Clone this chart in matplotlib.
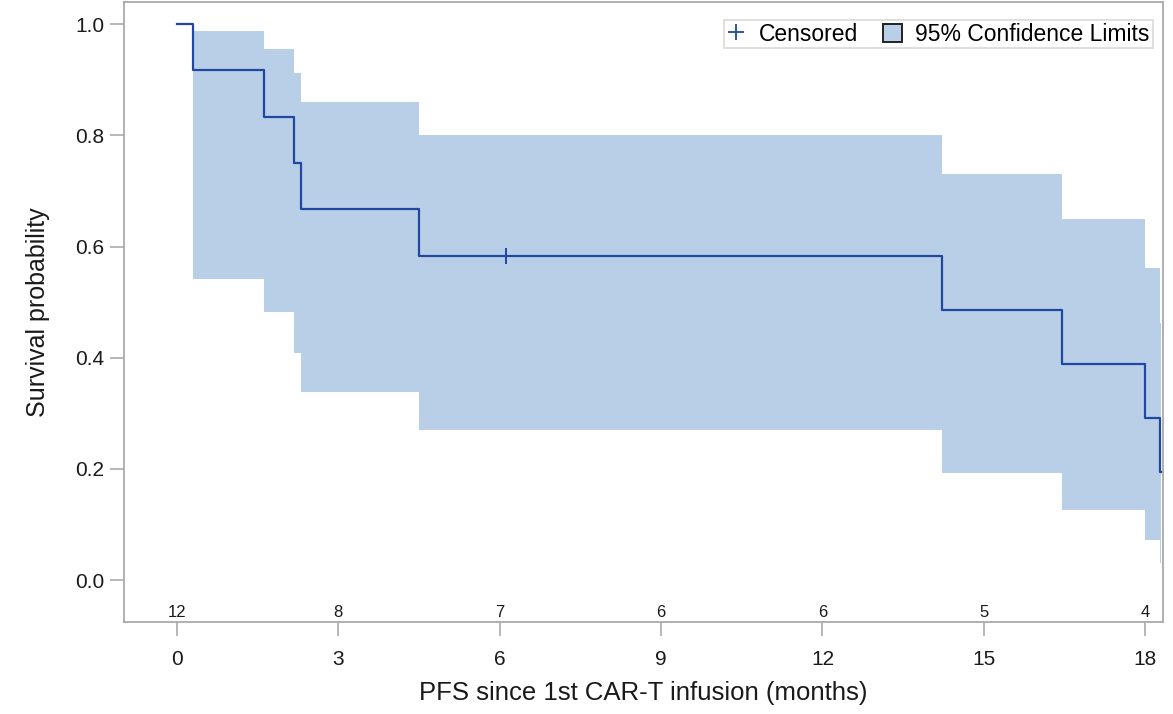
import numpy as np
import matplotlib.pyplot as plt
from matplotlib.patches import Patch
from matplotlib.lines import Line2D

plt.rcParams['font.family'] = ['Liberation Sans', 'DejaVu Sans']

# Kaplan-Meier step estimate (time in months, survival after each step)
km_t = [0.0, 0.30, 1.61, 2.17, 2.31, 4.50, 14.22, 16.46, 18.00, 18.28]
km_s = [1.0, 0.917, 0.833, 0.750, 0.667, 0.583, 0.486, 0.389, 0.292, 0.194]
t_end = 18.30

# 95% pointwise confidence band, starting at first event
ci_t = [0.30, 1.61, 2.17, 2.31, 4.50, 14.22, 16.46, 18.00, 18.28]
ci_lo = [0.541, 0.483, 0.408, 0.338, 0.270, 0.193, 0.126, 0.072, 0.031]
ci_hi = [0.988, 0.956, 0.912, 0.860, 0.800, 0.731, 0.650, 0.561, 0.463]

censor_t = [6.12]
censor_s = [0.583]

risk_times = [0, 3, 6, 9, 12, 15, 18]
at_risk = [12, 8, 7, 6, 6, 5, 4]

line_col = '#2048A0'
band_col = '#B9CFE7'
frame_col = '#AAAAAA'
txt_col = '#1A1A1A'

fig = plt.figure(figsize=(11.73, 7.14), dpi=100)
ax = fig.add_axes([124 / 1173, 1 - 622 / 714, (1163 - 124) / 1173, (622 - 2) / 714])

bt = ci_t + [t_end]
ax.fill_between(bt, ci_lo + [ci_lo[-1]], ci_hi + [ci_hi[-1]], step='post',
                color=band_col, lw=0, zorder=1)
ax.step(km_t + [t_end], km_s + [km_s[-1]], where='post', color=line_col, lw=1.6, zorder=3)
ax.plot(censor_t, censor_s, ls='none', marker='|', ms=12, mew=1.4, color=line_col, zorder=4)

# number at risk along the bottom of the plot area
for t, n in zip(risk_times, at_risk):
    ax.text(t, -0.058, str(n), ha='center', va='center', fontsize=12, color=txt_col)

ax.set_xlim(-0.985, 18.33)
ax.set_ylim(-0.0755, 1.04)
ax.set_xticks(risk_times)
ax.set_yticks(np.arange(0, 1.01, 0.2))
ax.set_yticklabels(['%.1f' % v for v in np.arange(0, 1.01, 0.2)])
ax.tick_params(colors=frame_col, labelcolor=txt_col, labelsize=15, length=10, width=1.2)
ax.tick_params(axis='x', pad=10)
ax.tick_params(axis='y', pad=4)
for sp in ax.spines.values():
    sp.set_color(frame_col)
    sp.set_linewidth(1.3)

ax.set_xlabel('PFS since 1st CAR-T infusion (months)', fontsize=18.5, labelpad=9, color=txt_col)
ax.set_ylabel('Survival probability', fontsize=18, labelpad=18, color=txt_col)

handles = [Line2D([], [], ls='none', marker='+', ms=11, mew=1.3, color=line_col),
           Patch(facecolor=band_col, edgecolor='#222222', lw=1.4)]
leg = ax.legend(handles, ['Censored', '95% Confidence Limits'], loc='upper right',
                ncol=2, fontsize=16.5, frameon=True, fancybox=False, borderpad=0.12,
                handlelength=0.8, handleheight=0.8, handletextpad=0.6, columnspacing=1.1,
                borderaxespad=0, bbox_to_anchor=(0.990, 0.971))
leg.get_frame().set_edgecolor('#D4D4D4')
leg.get_frame().set_linewidth(1.3)

fig.savefig('out.png', dpi=100)
